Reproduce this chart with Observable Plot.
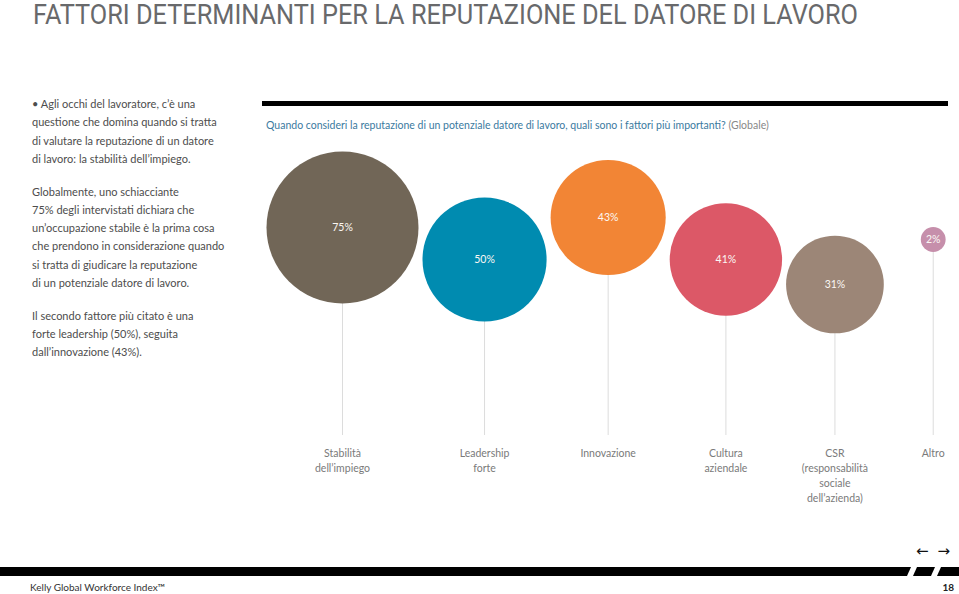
<!DOCTYPE html>
<html><head><meta charset="utf-8">
<script src="https://cdn.jsdelivr.net/npm/d3@7"></script>
<script src="https://cdn.jsdelivr.net/npm/@observablehq/plot@0.6"></script>
<style>
html,body{margin:0;padding:0;background:#fff;}
body{width:959px;height:594px;position:relative;overflow:hidden;font-family:Lato,"Open Sans",sans-serif;}
#title{position:absolute;left:33px;top:0px;font-family:Roboto,"Liberation Sans",sans-serif;font-weight:400;font-size:27px;line-height:31px;color:#68696b;white-space:nowrap;transform-origin:0 0;}
#left{position:absolute;left:32px;top:95px;width:226px;font-size:11px;line-height:18.3px;color:#4d4d4d;}
#left p{margin:0 0 14.4px 0;white-space:nowrap;}
#topbar{position:absolute;left:262px;top:101px;width:686px;height:5px;background:#000;}
#question{position:absolute;left:266px;top:117px;font-size:10.5px;line-height:16px;color:#3b7aa0;white-space:nowrap;}
#question span{color:#888;}
#chart{position:absolute;left:260px;top:140px;}
.bar{position:absolute;top:567px;height:9px;background:#000;}
#arrows{position:absolute;left:916px;top:542px;font-family:"DejaVu Sans",sans-serif;font-size:15px;line-height:18px;color:#111;white-space:nowrap;letter-spacing:9px;}
#foot{position:absolute;left:30px;top:581px;font-size:10px;line-height:12px;color:#333;}
#page{position:absolute;right:5px;top:581px;font-size:10px;line-height:12px;color:#222;font-weight:bold;}
</style>
</head><body>
<div id="title">FATTORI DETERMINANTI PER LA REPUTAZIONE DEL DATORE DI LAVORO</div>
<div id="left">
<p>• Agli occhi del lavoratore, c’è una<br>questione che domina quando si tratta<br>di valutare la reputazione di un datore<br>di lavoro: la stabilità dell’impiego.</p>
<p>Globalmente, uno schiacciante<br>75% degli intervistati dichiara che<br>un’occupazione stabile è la prima cosa<br>che prendono in considerazione quando<br>si tratta di giudicare la reputazione<br>di un potenziale datore di lavoro.</p>
<p>Il secondo fattore più citato è una<br>forte leadership (50%), seguita<br>dall’innovazione (43%).</p>
</div>
<div id="topbar"></div>
<div id="question">Quando consideri la reputazione di un potenziale datore di lavoro, quali sono i fattori più importanti? <span>(Globale)</span></div>
<div id="chart"></div>
<div id="arrows">←→</div>
<div class="bar" style="left:0;width:911px;clip-path:polygon(0 0,100% 0,calc(100% - 4px) 100%,0 100%);"></div>
<div class="bar" style="left:913px;width:22px;clip-path:polygon(4px 0,100% 0,calc(100% - 4px) 100%,0 100%);"></div>
<div class="bar" style="left:937px;width:22px;clip-path:polygon(4px 0,100% 0,100% 100%,0 100%);"></div>
<div id="foot">Kelly Global Workforce Index™</div>
<div id="page">18</div>
<script>
// ---- data ----
const categorie = ["Stabilità dell’impiego", "Leadership forte", "Innovazione", "Cultura aziendale", "CSR (responsabilità sociale dell’azienda)", "Altro"];
const etichette = ["Stabilità\ndell’impiego", "Leadership\nforte", "Innovazione", "Cultura\naziendale", "CSR\n(responsabilità\nsociale\ndell’azienda)", "Altro"];
const percentuali = [75, 50, 43, 41, 31, 2];
const colori = ["#716657", "#008bb0", "#f28535", "#dc5867", "#9c8677", "#c68fab"];
// layout: height of each bubble centre above the stem base (decorative zig-zag)
const elevazione = [208, 176, 218, 176, 151, 196];

// ---- layout: pack bubbles left to right by radius ----
const rMax = 76;
const rs = d3.scaleSqrt().domain([0, 75]).range([0, rMax]);
const gap = 4, gapAltro = 37;
const xs = [];
percentuali.forEach((v, i) => {
  if (i === 0) xs.push(6 + rs(v));
  else xs.push(xs[i - 1] + rs(percentuali[i - 1]) + rs(v) + (categorie[i] === "Altro" ? gapAltro : gap));
});
const data = categorie.map((c, i) => ({cat: c, v: percentuali[i], col: colori[i], e: elevazione[i], lab: etichette[i], x: xs[i]}));

const chart = Plot.plot({
  width: 699, height: 380, margin: 0,
  style: {fontFamily: "Lato, 'Open Sans', sans-serif", background: "transparent", overflow: "visible"},
  x: {type: "identity", axis: null},
  y: {domain: [0, 295], range: [295, 0], axis: null},
  r: {domain: [0, 75], range: [0, rMax]},
  color: {type: "identity"},
  marks: [
    Plot.ruleX(data, {x: "x", y1: 0, y2: "e", stroke: "#dcdcdc", strokeWidth: 1}),
    Plot.dot(data, {x: "x", y: "e", r: "v", fill: "col"}),
    Plot.text(data, {x: "x", y: "e", text: d => d.v + "%", fill: "#fbf8f4", fontSize: 10.5}),
    Plot.text(data, {x: "x", y: 0, text: "lab", dy: 11, lineAnchor: "top", lineHeight: 15 / 10.5, fill: "#7a7a7a", fontSize: 10.5})
  ]
});
document.getElementById("chart").appendChild(chart);

// fit title width
const t = document.getElementById("title");
const w = t.getBoundingClientRect().width;
t.style.transform = `scaleX(${825 / w})`;
</script>
</body></html>
